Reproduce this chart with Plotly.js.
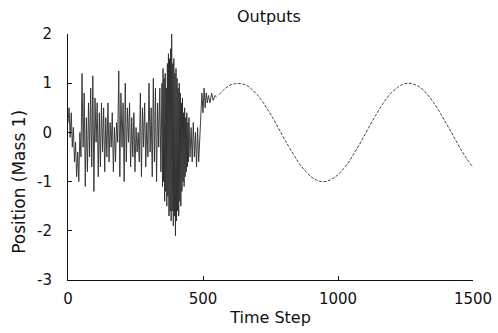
<!DOCTYPE html>
<html>
<head>
<meta charset="utf-8">
<script src="https://cdn.plot.ly/plotly-3.0.1.min.js"></script>
<style>
html,body{margin:0;padding:0;background:#fff;}
#chart{width:498px;height:333px;}
</style>
</head>
<body>
<div id="chart"></div>
<script>
// Noisy start (time steps 0..550)
var noiseTime = [0,4,8,12,16,20,24,28,32,36,40,44,48,52,56,60,64,68,72,76,80,84,88,92,96,100,104,108,112,116,120,124,128,132,136,140,144,148,152,156,160,164,168,172,176,180,184,188,192,196,200,204,208,212,216,220,224,228,232,236,240,244,248,252,256,260,264,268,272,276,280,284,288,292,296,300,304,308,312,316,320,324,328,332,336,340,344,348,
 350,352,354,356,358,360,362,364,366,368,370,372,374,376,378,380,382,384,386,388,390,392,394,396,398,400,402,404,406,408,410,412,414,416,418,420,422,424,426,428,430,432,434,436,438,440,442,444,446,448,
 452,456,460,464,468,472,476,480,484,488,492,496,500,504,508,512,516,520,526,532,538,544,550];
var noiseValue = [0.2,0.5,-0.1,0.4,-0.3,0.1,-0.6,-0.2,-0.9,-0.4,-1.0,0.0,-0.5,1.2,-0.3,0.8,-1.1,0.3,-0.8,0.6,-0.5,0.9,-0.7,1.15,-1.2,0.7,-0.2,0.6,-0.9,0.4,-0.7,0.6,-0.4,0.5,-0.8,0.3,-0.5,0.6,-0.6,0.2,-0.3,0.4,-0.8,0.1,-0.6,0.2,-0.2,1.25,-0.9,0.8,-0.3,0.6,-1.0,1.0,-0.6,0.5,-0.2,0.6,-0.7,0.3,-0.5,0.4,-0.8,0.1,-0.4,0.0,-0.6,0.8,-0.9,0.5,-0.3,0.6,-0.7,0.2,-0.5,1.0,-0.4,0.5,-0.9,1.1,-0.6,0.9,-1.0,0.6,-0.3,0.9,-0.8,1.0,
 -1.1,1.3,-1.0,1.1,-1.4,1.2,-1.2,0.9,-1.5,1.4,-1.3,1.6,-1.7,1.5,-1.6,1.7,-1.8,2.0,-1.6,1.4,-1.9,1.5,-1.7,1.2,-2.1,1.3,-1.8,1.1,-1.6,0.9,-1.7,1.0,-1.4,0.8,-1.5,0.6,-1.2,0.7,-1.0,0.4,-1.1,0.5,-0.9,0.3,-0.8,0.4,-0.7,0.2,-0.6,0.3,-0.5,0.1,
 -0.6,0.2,-0.5,0.0,-0.7,0.1,-0.6,-0.2,0.3,0.8,0.4,0.9,0.5,0.8,0.6,0.75,0.6,0.8,0.65,0.75,0.72,0.8,0.82];
// Smooth oscillation afterwards, read every 20 steps
var waveTime = [560,580,600,620,640,660,680,700,720,740,760,780,800,820,840,860,880,900,920,940,960,980,1000,1020,1040,1060,1080,1100,1120,1140,1160,1180,1200,1220,1240,1260,1280,1300,1320,1340,1360,1380,1400,1420,1440,1460,1480,1500];
var waveValue = [0.77,0.88,0.96,0.99,0.99,0.96,0.88,0.77,0.63,0.46,0.28,0.08,-0.12,-0.31,-0.49,-0.66,-0.79,-0.90,-0.97,-1.0,-0.99,-0.94,-0.86,-0.74,-0.60,-0.42,-0.24,-0.04,0.16,0.35,0.53,0.69,0.82,0.91,0.98,1.0,0.98,0.93,0.84,0.71,0.56,0.38,0.19,0.0,-0.2,-0.39,-0.56,-0.71];

var xTicks = [0,500,1000,1500];
var yTicks = [-3,-2,-1,0,1,2];

var font = 'DejaVu Sans, Arial, sans-serif';

var traces = [
  {x: noiseTime, y: noiseValue, mode:'lines', line:{color:'#2b2b2b', width:0.9}, hoverinfo:'skip'},
  {x: waveTime, y: waveValue, mode:'lines', line:{color:'#444', width:1, dash:'3px,1.5px', shape:'spline'}, hoverinfo:'skip'}
];

var layout = {
  width:498, height:333,
  margin:{l:68, r:25, t:34, b:53},
  paper_bgcolor:'#fff', plot_bgcolor:'#fff',
  showlegend:false,
  title:{text:'Outputs', font:{family:font, size:16, color:'#111'}, x:0.54, xanchor:'center', y:0.952, yanchor:'middle'},
  xaxis:{range:[0,1500], tickvals:xTicks, ticktext:xTicks.map(String), showgrid:false, zeroline:false,
    showline:true, linecolor:'#111', linewidth:1, ticks:'inside', ticklen:4, tickcolor:'#111',
    ticklabelstandoff:5,
    tickfont:{family:font, size:15, color:'#111'},
    title:{text:'Time Step', font:{family:font, size:16, color:'#111'}, standoff:4}},
  yaxis:{range:[-3,2], tickvals:yTicks, ticktext:yTicks.map(String), showgrid:false, zeroline:false,
    showline:true, linecolor:'#111', linewidth:1, ticks:'inside', ticklen:4, tickcolor:'#111',
    ticklabelstandoff:12,
    tickfont:{family:font, size:15, color:'#111'}},
  annotations:[{text:'Position (Mass 1)', xref:'paper', yref:'paper', x:-0.123, y:0.40, xanchor:'center', yanchor:'middle',
    textangle:-90, showarrow:false, font:{family:font, size:17, color:'#111'}}]
};

Plotly.newPlot('chart', traces, layout, {staticPlot:true, displayModeBar:false});
</script>
</body>
</html>
